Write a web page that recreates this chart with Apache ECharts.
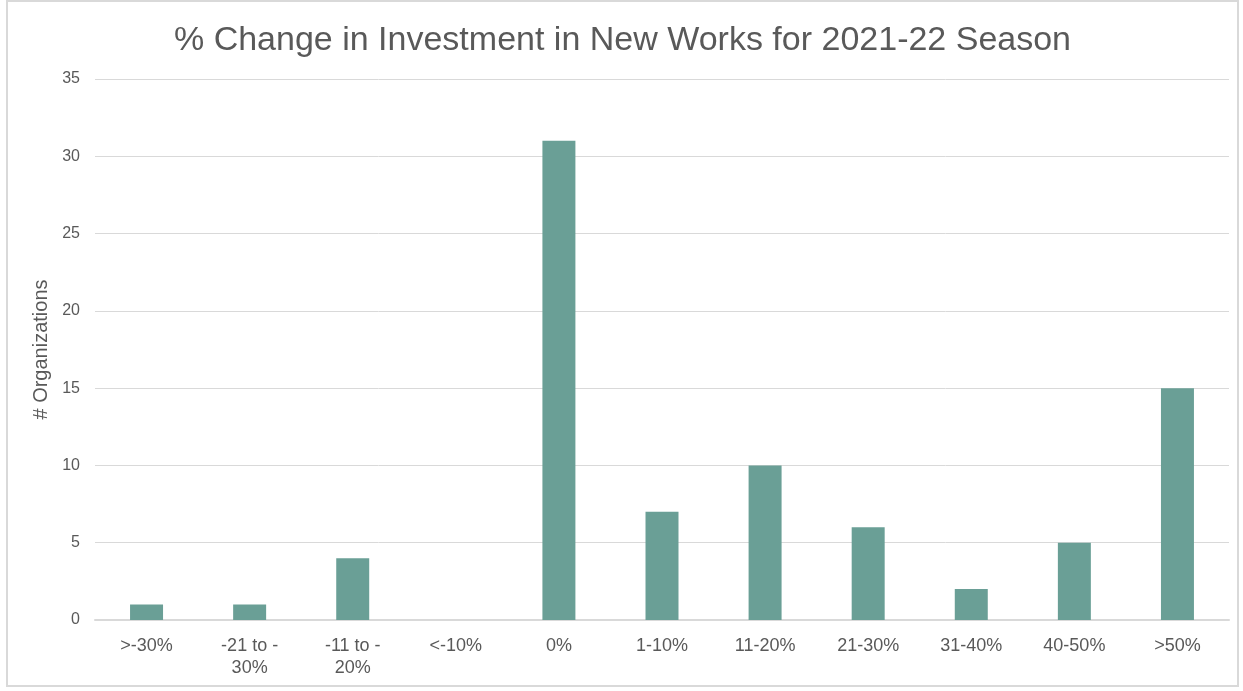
<!DOCTYPE html>
<html>
<head>
<meta charset="utf-8">
<script src="https://cdn.jsdelivr.net/npm/echarts@6/dist/echarts.min.js"></script>
<style>
    html, body { margin: 0; padding: 0; background: #fff; }
    #chart {
        position: absolute;
        left: 6px; top: 0px;
        width: 1233px; height: 687px;
        border: 2px solid #d9d9d9;
        box-sizing: border-box;
    }
</style>
</head>
<body>
<div id="chart"></div>
<script>
    // data
    var categories = ['>-30%', '-21 to -\n30%', '-11 to -\n20%', '<-10%', '0%', '1-10%', '11-20%', '21-30%', '31-40%', '40-50%', '>50%'];
    var orgCounts = [1, 1, 4, 0, 31, 7, 10, 6, 2, 5, 15];

    var chart = echarts.init(document.getElementById('chart'));
    var txt = '#595959';
    var font = '"Liberation Sans", Arial, sans-serif';

    chart.setOption({
        animation: false,
        title: {
            text: '% Change in Investment in New Works for 2021-22 Season',
            left: 'center',
            top: 17,
            textStyle: { color: txt, fontSize: 34, fontWeight: 'normal', fontFamily: font }
        },
        grid: { left: 87, right: 8, top: 77, bottom: 65 },
        xAxis: {
            type: 'category',
            data: categories,
            axisLine: { lineStyle: { color: '#d9d9d9', width: 2 } },
            axisTick: { show: false },
            axisLabel: { color: txt, fontSize: 18, fontFamily: font, margin: 15, lineHeight: 22, interval: 0 }
        },
        yAxis: {
            type: 'value',
            min: 0, max: 35, interval: 5,
            name: '# Organizations',
            nameLocation: 'middle',
            nameGap: 40,
            nameTextStyle: { color: txt, fontSize: 20, fontFamily: font },
            axisLine: { show: false },
            axisTick: { show: false },
            splitLine: { lineStyle: { color: '#d9d9d9', width: 1 } },
            axisLabel: { color: txt, fontSize: 16, fontFamily: font, margin: 15 }
        },
        series: [{
            type: 'bar',
            data: orgCounts,
            barWidth: '32%',
            itemStyle: { color: '#6a9f96' }
        }]
    });
</script>
</body>
</html>
